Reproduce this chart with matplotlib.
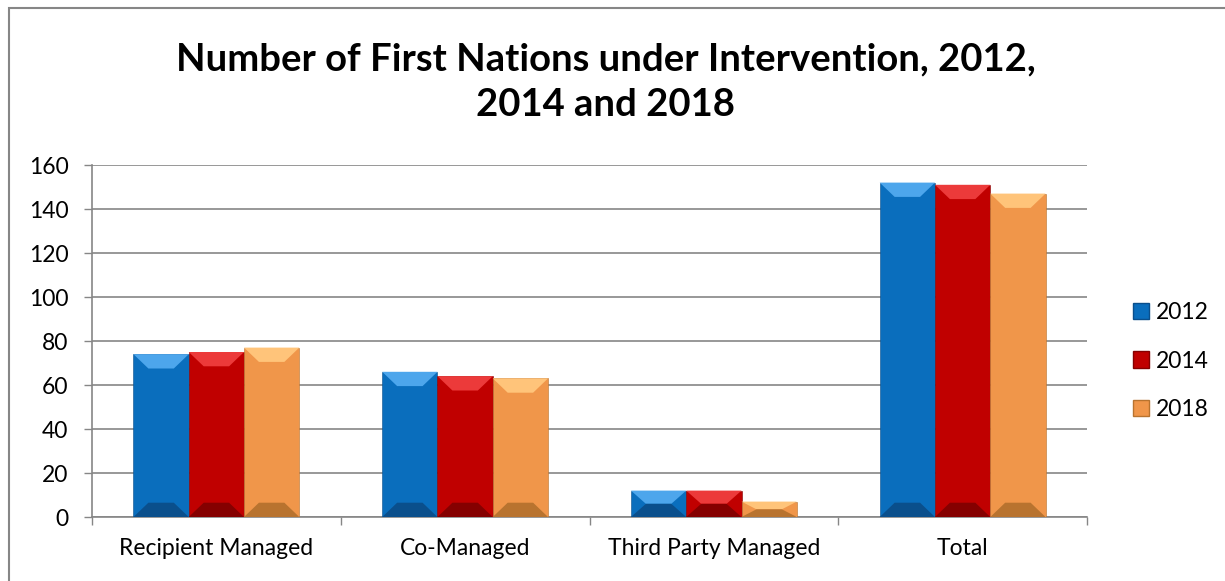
import numpy as np
import matplotlib.pyplot as plt
from matplotlib.patches import Polygon, Rectangle, Patch

categories = ['Recipient Managed', 'Co-Managed', 'Third Party Managed', 'Total']
years = ['2012', '2014', '2018']
v2012 = [74, 66, 12, 152]
v2014 = [75, 64, 12, 151]
v2018 = [77, 63, 7, 147]
yticks = [0, 20, 40, 60, 80, 100, 120, 140, 160]

# main colour, light top bevel, dark bottom bevel
colors = ['#0A6EBD', '#C00000', '#F0964A']
lights = ['#4DA6EC', '#EC3A3A', '#FFC47A']
darks = ['#0A4F8C', '#850000', '#B8732F']

plt.rcParams['font.family'] = ['Lato', 'DejaVu Sans']

fig = plt.figure(figsize=(12.25, 5.81), dpi=100)
ax = fig.add_axes([92/1225, 1-517/581, (1087-92)/1225, (517-165)/581])

x = np.arange(len(categories))
w = 1/4.5
series = [v2012, v2014, v2018]
for i, vals in enumerate(series):
    bars = ax.bar(x + (i-1)*w, vals, w, color=colors[i], zorder=3,
                  edgecolor=darks[i], linewidth=0.4)
    for b in bars:
        x0, x1 = b.get_x(), b.get_x() + b.get_width()
        h = b.get_height()
        dx = 0.06
        dy = min(6.5, h/2)
        top = Polygon([(x0, h), (x1, h), (x1-dx, h-dy), (x0+dx, h-dy)],
                      closed=True, color=lights[i], zorder=4, lw=0)
        bot = Polygon([(x0, 0), (x1, 0), (x1-dx, dy), (x0+dx, dy)],
                      closed=True, color=darks[i], zorder=4, lw=0)
        ax.add_patch(top)
        ax.add_patch(bot)

ax.set_xlim(-0.5, len(categories)-0.5)
ax.set_ylim(0, 160)
ax.set_yticks(yticks)
ax.set_xticks(x)
ax.set_xticklabels(categories)
ax.set_xticks(np.arange(len(categories)+1)-0.5, minor=True)
ax.tick_params(axis='x', which='major', length=0, labelsize=16.5, pad=15)
ax.tick_params(axis='x', which='minor', length=6, width=1, color='#868686')
ax.tick_params(axis='y', length=6, width=1, color='#868686', labelsize=16.5, pad=11)
ax.grid(axis='y', color='#868686', lw=1.2, zorder=0)
for s in ['top', 'right']:
    ax.spines[s].set_visible(False)
for s in ['left', 'bottom']:
    ax.spines[s].set_color('#868686')
    ax.spines[s].set_linewidth(1.2)

handles = [Patch(facecolor=colors[i], edgecolor=darks[i]) for i in range(3)]
fig.legend(handles, years, loc='center left', bbox_to_anchor=(1112/1225, 1-361/581),
           frameon=False, fontsize=16.5, handlelength=0.7, handleheight=0.7,
           handletextpad=0.3, labelspacing=1.2)

fig.text(606/1225, 1-82/581, 'Number of First Nations under Intervention, 2012,\n2014 and 2018',
         ha='center', va='center', fontsize=27.5, fontweight='bold', linespacing=1.42)

fig.patches.append(Rectangle((9/1225, -0.1), 1.2, 1-8/581+0.1, transform=fig.transFigure,
                             fill=False, edgecolor='#868686', lw=1.5))

fig.savefig('out.png', dpi=100)
